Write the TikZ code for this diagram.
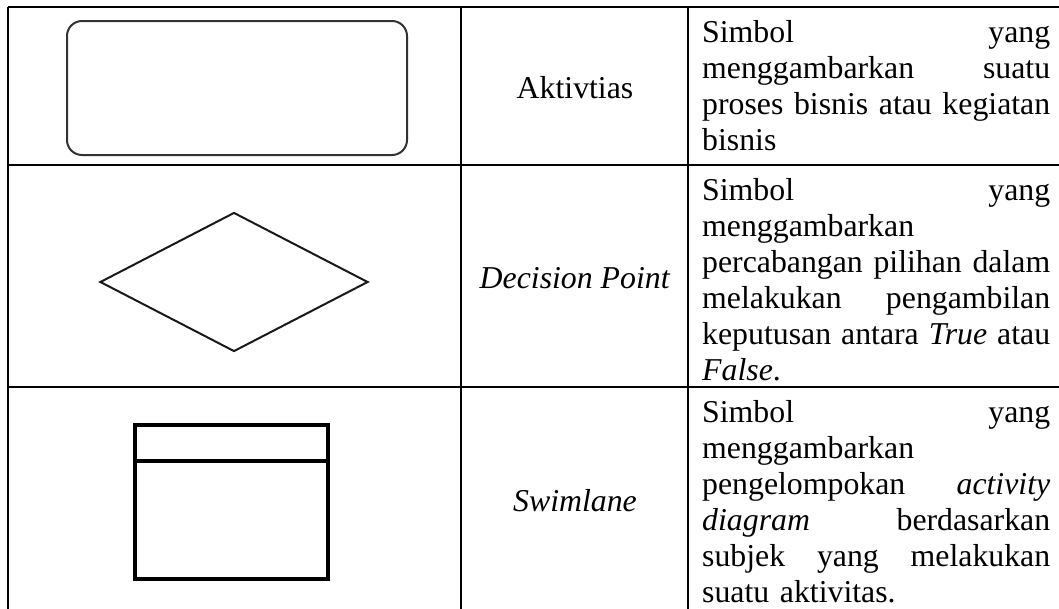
\documentclass[tikz,border=0pt]{standalone}
\usepackage{fontspec}
\setmainfont{Liberation Serif}
\usepackage{tikz}
\usetikzlibrary{shapes.geometric}
\tikzset{
	tableline/.style={
		% The border:
		line width=2pt,
		draw=black,
	}}
\tikzset{
	activity/.style={
		% The shape:
		shape=rectangle,rounded corners=15pt,
		% The size:
		minimum width=340pt,minimum height=134pt,inner sep=0pt,
		% The border:
		line width=2pt,
		draw=black!80,
	}}
\tikzset{
	decision/.style={
		% The shape:
		shape=diamond,inner sep=0pt,
		% The size:
		minimum width=268pt,minimum height=139pt,
		% The border:
		line width=2pt,
		draw=black!90,
	}}
\tikzset{
	lane/.style={
		% The shape:
		shape=rectangle,inner sep=0pt,
		% The size:
		minimum width=193pt,minimum height=154pt,
		% The border:
		line width=4pt,
		draw=black,
	}}
\tikzset{
	cellname/.style={
		anchor=base,inner sep=0pt,
		font=\fontsize{31.8}{36}\selectfont,
	}}
\tikzset{
	celltext/.style={
		anchor=base west,inner sep=0pt,
		text width=348pt,
		font=\fontsize{31.8}{36}\selectfont,
	}}
\begin{document}
\begin{tikzpicture}[x=1pt,y=-1pt]
\useasboundingbox (0,0) rectangle (1059,608);
% grid of the table
\draw[tableline] (8,7) -- (1062,7);
\draw[tableline] (8,165) -- (1062,165);
\draw[tableline] (8,387) -- (1062,387);
\draw[tableline] (8,611) -- (1062,611);
\draw[tableline] (8,7) -- (8,611);
\draw[tableline] (461,7) -- (461,611);
\draw[tableline] (688,7) -- (688,611);
\draw[tableline] (1062,7) -- (1062,611);
% symbols
\node[activity] (act) at (237,88) {};
\node[decision] (dec) at (234,282) {};
\node[lane] (swim) at (231.5,502) {};
\draw[line width=4pt] ([yshift=-38pt]swim.north west) -- ([yshift=-38pt]swim.north east);
% names
\node[cellname] (actname) at (575,98) {Aktivtias};
\node[cellname] (decname) at (575,288) {\textit{Decision Point}};
\node[cellname] (swimname) at (575,511) {\textit{Swimlane}};
% descriptions
\node[celltext] (acttext) at (702,42) {Simbol\hfill yang\\
	menggambarkan\hfill suatu\\
	proses\hfill bisnis\hfill atau\hfill kegiatan\\
	bisnis};
\node[celltext] (dectext) at (702,200) {Simbol\hfill yang\\
	menggambarkan\\
	percabangan\hfill pilihan\hfill dalam\\
	melakukan\hfill pengambilan\\
	keputusan\hfill antara\hfill \textit{True}\hfill atau\\
	\textit{False}.};
\node[celltext] (swimtext) at (702,422) {Simbol\hfill yang\\
	menggambarkan\\
	pengelompokan\hfill \textit{activity}\\
	\textit{diagram}\hfill berdasarkan\\
	subjek\hfill yang\hfill melakukan\\
	suatu aktivitas.};
\end{tikzpicture}
\end{document}
